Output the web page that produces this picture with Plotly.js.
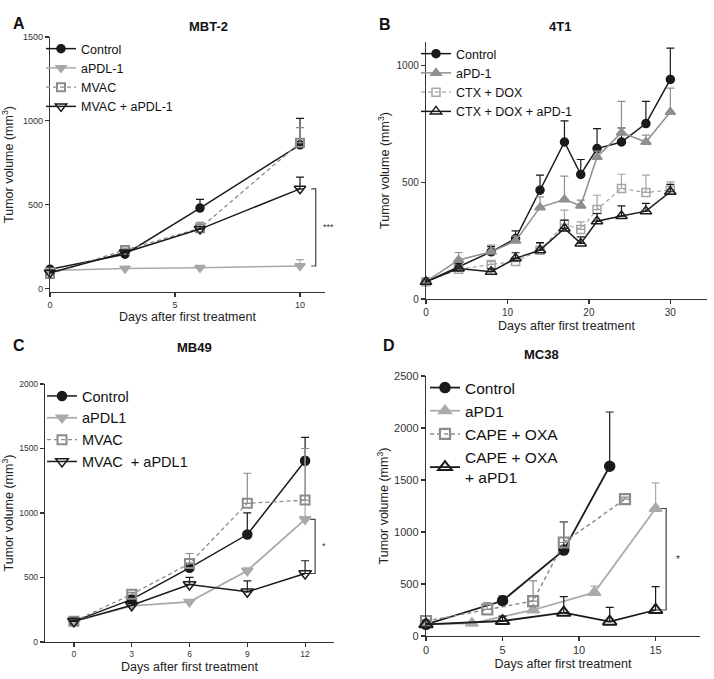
<!DOCTYPE html>
<html>
<head>
<meta charset="utf-8">
<script src="https://cdn.plot.ly/plotly-3.0.1.min.js"></script>
<style>
  html, body { margin: 0; padding: 0; background: #fff; }
  #fig { width: 714px; height: 679px; }
</style>
</head>
<body>
<div id="fig"></div>
<script>
// Panel A: MBT-2
const daysA = [0, 3, 6, 10];
const aControl = [115, 205, 480, 857];
const aControlErr = [10, 15, 52, 158];
const aPdl1 = [108, 120, 125, 135];
const aPdl1Err = [5, 8, 8, 38];
const aMvac = [88, 230, 360, 870];
const aMvacErr = [8, 12, 35, 90];
const aCombo = [95, 215, 355, 595];
const aComboErr = [8, 10, 15, 70];

// Panel B: 4T1
const daysB = [0, 4, 8, 11, 14, 17, 19, 21, 24, 27, 30];
const bControl = [74, 138, 202, 259, 466, 672, 533, 644, 672, 751, 940];
const bControlErr = [8, 15, 22, 33, 64, 90, 64, 85, 60, 95, 134];
const bApd1 = [74, 167, 202, 249, 392, 426, 399, 608, 712, 672, 800];
const bApd1Err = [8, 32, 29, 20, 45, 100, 24, 25, 134, 29, 103];
const bCtx = [74, 127, 148, 160, 209, 320, 298, 383, 473, 456, 466];
const bCtxErr = [8, 10, 12, 10, 29, 60, 32, 61, 61, 74, 35];
const bCombo = [74, 131, 117, 174, 209, 302, 238, 333, 355, 376, 459];
const bComboErr = [8, 10, 12, 24, 32, 36, 28, 33, 44, 33, 32];

// Panel C: MB49
const daysC = [0, 3, 6, 9, 12];
const cControl = [160, 330, 575, 833, 1405];
const cControlErr = [10, 20, 35, 168, 181];
const cPdl1 = [160, 280, 311, 552, 951];
const cPdl1Err = [10, 10, 15, 20, 549];
const cMvac = [160, 370, 608, 1075, 1100];
const cMvacErr = [10, 15, 78, 233, 400];
const cCombo = [160, 285, 446, 389, 531];
const cComboErr = [10, 15, 55, 85, 99];

// Panel D: MC38
const dControlDays = [0, 5, 9, 12];
const dControl = [112, 339, 826, 1632];
const dControlErr = [10, 45, 272, 522];
const dApd1Days = [0, 3, 7, 11, 15];
const dApd1 = [112, 122, 250, 419, 1226];
const dApd1Err = [10, 10, 20, 61, 246];
const dCapeDays = [0, 4, 7, 9, 13];
const dCape = [144, 256, 336, 899, 1316];
const dCapeErr = [10, 64, 195, 199, 20];
const dComboDays = [0, 5, 9, 12, 15];
const dCombo = [112, 144, 224, 138, 250];
const dComboErr = [10, 48, 154, 137, 224];

const W = 714, H = 679;
const FONT = 'Liberation Sans, Arial, sans-serif';
const BLACK = '#1a1a1a';
const px = v => v / W;
const py = v => 1 - v / H;

function series(name, x, y, err, opts) {
  return {
    type: 'scatter', mode: 'lines+markers', name: name,
    x: x, y: y, xaxis: opts.xa, yaxis: opts.ya, legend: opts.legend,
    cliponaxis: false,
    line: { color: opts.color, width: opts.lw || 1.5, dash: opts.dash || 'solid' },
    marker: {
      symbol: opts.symbol, size: opts.size || 8, color: opts.color,
      line: { color: opts.color, width: opts.mlw || 1.5 }
    },
    error_y: {
      type: 'data', symmetric: false, array: err, arrayminus: err.map(() => 0),
      color: opts.color, thickness: 1.2, width: opts.capw || 4
    }
  };
}

const A = { xa: 'x', ya: 'y', legend: 'legend' };
const B = { xa: 'x2', ya: 'y2', legend: 'legend2' };
const C = { xa: 'x3', ya: 'y3', legend: 'legend3' };
const D = { xa: 'x4', ya: 'y4', legend: 'legend4' };

const data = [
  series('Control', daysA, aControl, aControlErr, { ...A, color: BLACK, symbol: 'circle', size: 8 }),
  series('aPDL-1', daysA, aPdl1, aPdl1Err, { ...A, color: '#a8a8a8', symbol: 'triangle-down', size: 9 }),
  series('MVAC', daysA, aMvac, aMvacErr, { ...A, color: '#8c8c8c', symbol: 'square-open', size: 8, mlw: 2, lw: 1.3, dash: '4px,3px' }),
  series('MVAC + aPDL-1', daysA, aCombo, aComboErr, { ...A, color: BLACK, symbol: 'triangle-down-open', size: 10 }),

  series('Control', daysB, bControl, bControlErr, { ...B, color: BLACK, symbol: 'circle', size: 8 }),
  series('aPD-1', daysB, bApd1, bApd1Err, { ...B, color: '#8f8f8f', symbol: 'triangle-up', size: 9 }),
  series('CTX + DOX', daysB, bCtx, bCtxErr, { ...B, color: '#a5a5a5', symbol: 'square-open', size: 8, lw: 1.2, dash: '4px,3px' }),
  series('CTX + DOX + aPD-1', daysB, bCombo, bComboErr, { ...B, color: BLACK, symbol: 'triangle-up-open', size: 10 }),

  series('Control', daysC, cControl, cControlErr, { ...C, color: BLACK, symbol: 'circle', size: 9 }),
  series('aPDL1', daysC, cPdl1, cPdl1Err, { ...C, color: '#aaaaaa', symbol: 'triangle-down', size: 10, lw: 1.8 }),
  series('MVAC', daysC, cMvac, cMvacErr, { ...C, color: '#8c8c8c', symbol: 'square-open', size: 9, mlw: 2, lw: 1.3, dash: '4px,3px' }),
  series('MVAC  + aPDL1', daysC, cCombo, cComboErr, { ...C, color: BLACK, symbol: 'triangle-down-open', size: 11 }),

  series('Control', dControlDays, dControl, dControlErr, { ...D, color: BLACK, symbol: 'circle', size: 10, lw: 1.8 }),
  series('aPD1', dApd1Days, dApd1, dApd1Err, { ...D, color: '#aaaaaa', symbol: 'triangle-up', size: 11, lw: 1.8 }),
  series('CAPE + OXA', dCapeDays, dCape, dCapeErr, { ...D, color: '#8c8c8c', symbol: 'square-open', size: 10, mlw: 2.2, lw: 1.5, dash: '4px,3px' }),
  series('CAPE + OXA<br>+ aPD1', dComboDays, dCombo, dComboErr, { ...D, color: BLACK, symbol: 'triangle-up-open', size: 12, mlw: 2, lw: 1.8 })
];

function xAxis(domain, range, dtick, size, anchor, standoff) {
  return {
    domain: domain, range: range, dtick: dtick, tick0: 0, anchor: anchor,
    showline: true, linecolor: '#333', linewidth: 1.2, mirror: false,
    ticks: 'outside', ticklen: 4, tickcolor: '#333', tickwidth: 1.2,
    showgrid: false, zeroline: false,
    tickfont: { family: FONT, size: size, color: '#333' },
    title: { text: 'Days after first treatment', font: { family: FONT, size: 12.5, color: '#222' }, standoff: standoff }
  };
}
function yAxis(domain, range, dtick, size, anchor, standoff) {
  return {
    domain: domain, range: range, dtick: dtick, tick0: 0, anchor: anchor,
    showline: true, linecolor: '#333', linewidth: 1.2,
    ticks: 'outside', ticklen: 4, tickcolor: '#333', tickwidth: 1.2,
    showgrid: false, zeroline: false,
    tickfont: { family: FONT, size: size, color: '#333' },
    title: { text: 'Tumor volume (mm<sup>3</sup>)', font: { family: FONT, size: 12.5, color: '#222' }, standoff: standoff }
  };
}

function legendAt(x, y, size) {
  return {
    x: px(x), y: py(y), xanchor: 'left', yanchor: 'top',
    bgcolor: 'rgba(0,0,0,0)', borderwidth: 0, itemwidth: 30,
    tracegroupgap: 0, itemclick: false,
    font: { family: FONT, size: size, color: '#111' }
  };
}

// significance brackets, spanning the last points of two series
function bracket(xa, ya, xPos, tickLen, y1, y2, label, shift, size) {
  const shape = {
    type: 'path', xref: xa, yref: ya,
    path: `M ${xPos - tickLen},${y1} L ${xPos},${y1} L ${xPos},${y2} L ${xPos - tickLen},${y2}`,
    line: { color: '#444', width: 1.2 }
  };
  const note = {
    xref: xa, yref: ya, x: xPos, y: (y1 + y2) / 2, xshift: shift,
    text: label, showarrow: false, font: { family: FONT, size: size, color: '#333' }
  };
  return [shape, note];
}

const brA = bracket('x', 'y', 10.63, 0.18, aPdl1[aPdl1.length - 1], aCombo[aCombo.length - 1], '***', 13, 9);
const brC = bracket('x3', 'y3', 12.52, 0.25, cPdl1[cPdl1.length - 1], cCombo[cCombo.length - 1], '*', 9, 9);
const brD = bracket('x4', 'y4', 15.69, 0.35, dApd1[dApd1.length - 1], dCombo[dCombo.length - 1], '*', 12, 10);

function label(text, x, y, size, bold) {
  return {
    xref: 'paper', yref: 'paper', x: px(x), y: py(y), showarrow: false,
    text: bold ? '<b>' + text + '</b>' : text,
    font: { family: FONT, size: size, color: '#111' }
  };
}

const layout = {
  width: W, height: H,
  margin: { l: 0, r: 0, t: 0, b: 0 },
  paper_bgcolor: '#fff', plot_bgcolor: 'rgba(0,0,0,0)',
  showlegend: true,
  font: { family: FONT },
  xaxis: xAxis([px(50), px(325)], [0, 11], 5, 9, 'y', 1),
  yaxis: yAxis([py(292), py(37)], [-20, 1500], 500, 9, 'x', 8),
  xaxis2: xAxis([px(426), px(707)], [0, 34.5], 10, 10, 'y2', 4),
  yaxis2: yAxis([py(299), py(42)], [0, 1100], 500, 10, 'x2', 4),
  xaxis3: xAxis([px(45), px(334)], [-1.5, 13.5], 3, 8.5, 'y3', 3),
  yaxis3: yAxis([py(642), py(384)], [0, 2000], 500, 8.5, 'x3', 5),
  xaxis4: xAxis([px(426), px(700)], [0, 17.9], 5, 11, 'y4', 3),
  yaxis4: yAxis([py(636), py(376)], [0, 2500], 500, 11, 'x4', 2),
  legend: legendAt(41, 34, 12.5),
  legend2: legendAt(416, 39, 12.5),
  legend3: legendAt(42, 380, 14.5),
  legend4: legendAt(425, 371, 15.5),
  shapes: [brA[0], brC[0], brD[0]],
  annotations: [
    brA[1], brC[1], brD[1],
    label('A', 11, 13, 16, true), label('MBT-2', 187, 17, 13, true),
    label('B', 385, 14, 16, true), label('4T1', 573, 17, 13, true),
    label('C', 11, 345, 16, true), label('MB49', 175, 347, 13, true),
    label('D', 389, 345, 16, true), label('MC38', 561, 354, 13, true)
  ]
};

Plotly.newPlot('fig', data, layout, { displayModeBar: false, staticPlot: true });
</script>
</body>
</html>
